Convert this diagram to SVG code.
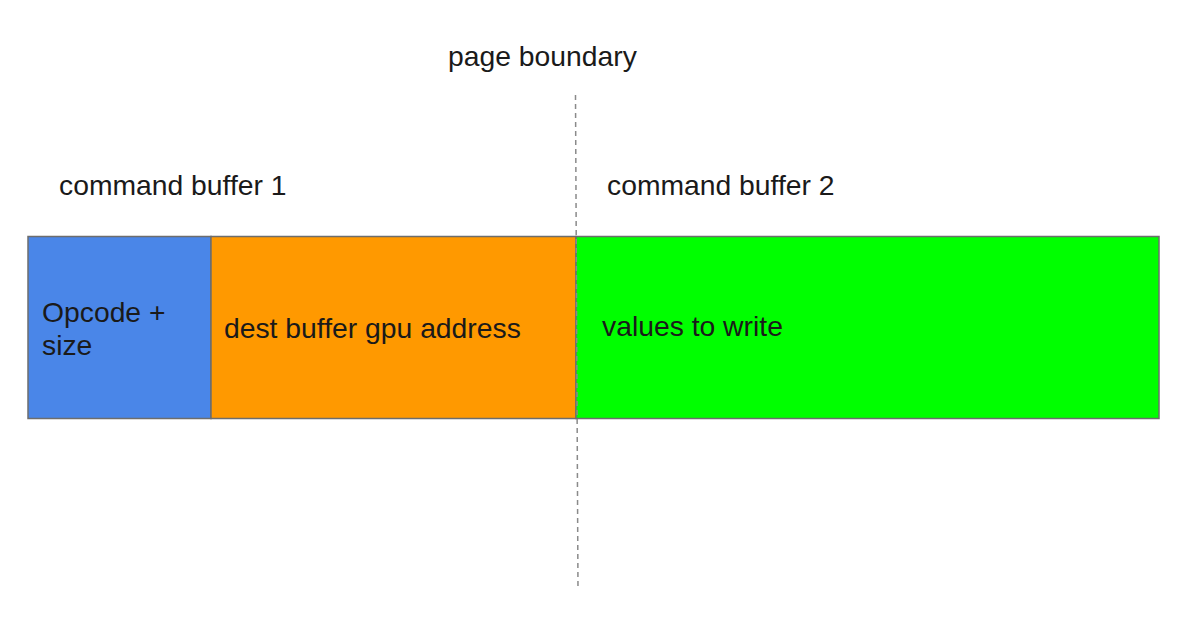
<svg xmlns="http://www.w3.org/2000/svg" width="1200" height="618" viewBox="0 0 1200 618">
<style>
text{font-family:"Liberation Sans",Arial,sans-serif;font-size:28.3px;fill:#1a1a1a}
.box{stroke:#6d6d6d;stroke-width:1.5}
</style>
<rect width="1200" height="618" fill="#fff"/>
<g id="opcode"><rect class="box" x="28" y="236.5" width="183" height="182" fill="#4a86e8"/><text x="42" y="322">Opcode +</text><text x="42" y="355">size</text></g>
<g id="dest"><rect class="box" x="211" y="236.5" width="365" height="182" fill="#ff9900"/><text x="224" y="338">dest buffer gpu address</text></g>
<g id="values"><rect class="box" x="576" y="236.5" width="583" height="182" fill="#00ff00"/><text x="602" y="336">values to write</text></g>
<g id="labels"><text x="448" y="66">page boundary</text><text x="59" y="195">command buffer 1</text><text x="607" y="195">command buffer 2</text></g>
<g id="connectors"><line x1="575.5" y1="95" x2="578" y2="590" stroke="#8a8a8a" stroke-width="1.5" stroke-dasharray="5,4"/></g>
</svg>
